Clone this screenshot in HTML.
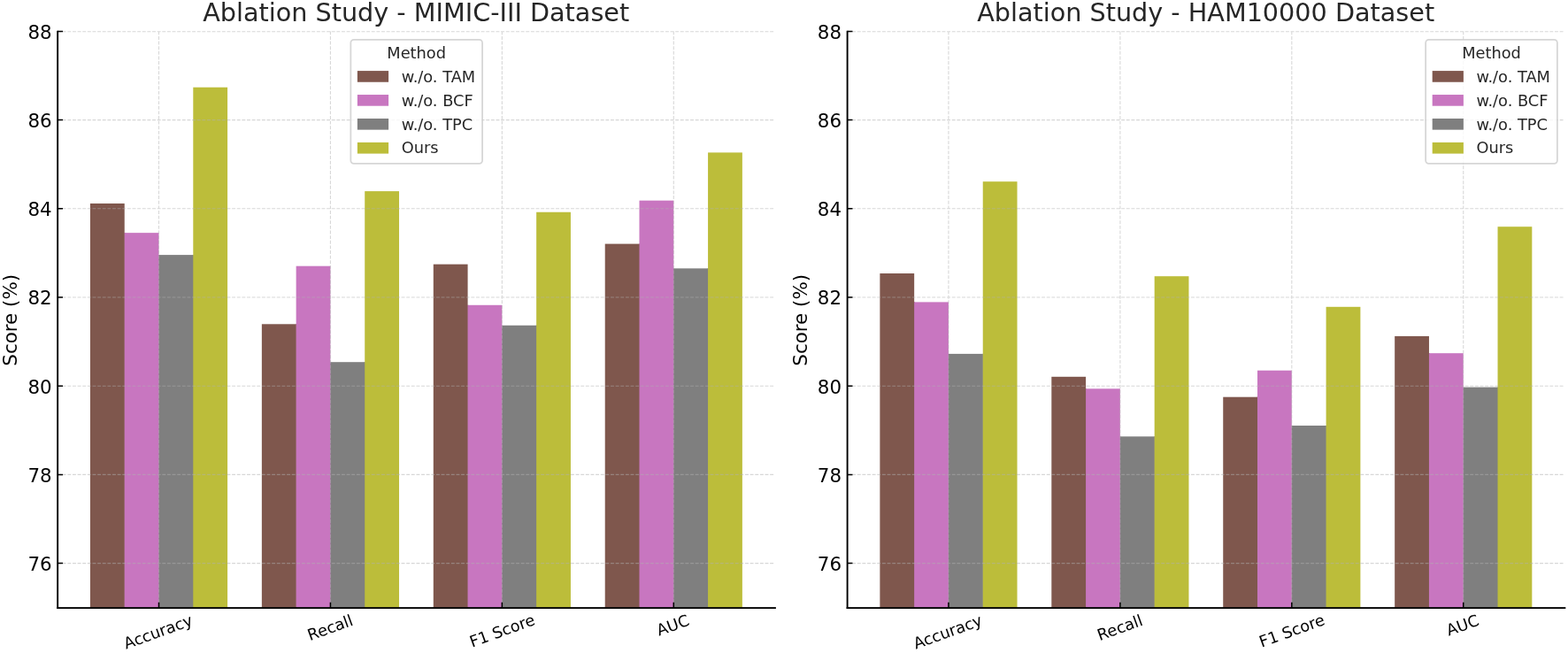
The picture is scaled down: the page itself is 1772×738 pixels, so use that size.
<!DOCTYPE html>
<html><head><meta charset="utf-8"><title>Ablation Study</title>
<style>
html,body{margin:0;padding:0;background:#fff;}
body{width:1772px;height:738px;overflow:hidden;}
svg{display:block;}
text{font-family:"DejaVu Sans","Liberation Sans",sans-serif;}
</style></head><body>
<svg width="1772" height="738" viewBox="0 0 1772 738">
<rect width="1772" height="738" fill="#fff"/>
<rect x="101.93" y="229.97" width="38.79" height="456.73" fill="#7f574d"/>
<rect x="140.21" y="263.15" width="1.3" height="423.55" fill="#7f574d"/>
<rect x="140.71" y="263.15" width="38.79" height="423.55" fill="#c876c0"/>
<rect x="179" y="288.1" width="1.3" height="398.6" fill="#c876c0"/>
<rect x="179.5" y="288.1" width="38.79" height="398.6" fill="#7f7f7f"/>
<rect x="217.79" y="288.1" width="1.3" height="398.6" fill="#7f7f7f"/>
<rect x="218.29" y="98.7" width="38.79" height="588" fill="#bcbd3a"/>
<rect x="295.86" y="366.3" width="38.79" height="320.4" fill="#7f574d"/>
<rect x="334.14" y="366.3" width="1.3" height="320.4" fill="#7f574d"/>
<rect x="334.64" y="300.7" width="38.79" height="386" fill="#c876c0"/>
<rect x="372.93" y="409.2" width="1.3" height="277.5" fill="#c876c0"/>
<rect x="373.43" y="409.2" width="38.79" height="277.5" fill="#7f7f7f"/>
<rect x="411.72" y="409.2" width="1.3" height="277.5" fill="#7f7f7f"/>
<rect x="412.22" y="216.1" width="38.79" height="470.6" fill="#bcbd3a"/>
<rect x="489.79" y="298.67" width="38.79" height="388.03" fill="#7f574d"/>
<rect x="528.07" y="344.8" width="1.3" height="341.9" fill="#7f574d"/>
<rect x="528.57" y="344.8" width="38.79" height="341.9" fill="#c876c0"/>
<rect x="566.86" y="367.75" width="1.3" height="318.95" fill="#c876c0"/>
<rect x="567.36" y="367.75" width="38.79" height="318.95" fill="#7f7f7f"/>
<rect x="605.65" y="367.75" width="1.3" height="318.95" fill="#7f7f7f"/>
<rect x="606.15" y="239.75" width="38.79" height="446.95" fill="#bcbd3a"/>
<rect x="683.72" y="275.6" width="38.79" height="411.1" fill="#7f574d"/>
<rect x="722" y="275.6" width="1.3" height="411.1" fill="#7f574d"/>
<rect x="722.5" y="226.65" width="38.79" height="460.05" fill="#c876c0"/>
<rect x="760.79" y="303.35" width="1.3" height="383.35" fill="#c876c0"/>
<rect x="761.29" y="303.35" width="38.79" height="383.35" fill="#7f7f7f"/>
<rect x="799.58" y="303.35" width="1.3" height="383.35" fill="#7f7f7f"/>
<rect x="800.08" y="172.4" width="38.79" height="514.3" fill="#bcbd3a"/>
<path d="M65.08 636.6H875.71M65.08 536.4H875.71M65.08 436.2H875.71M65.08 336H875.71M65.08 235.8H875.71M65.08 135.6H875.71M65.08 35.8H875.71M179.5 686.7V35.4M373.43 686.7V35.4M567.36 686.7V35.4M761.29 686.7V35.4" stroke="#b0b0b0" stroke-opacity="0.5" stroke-width="1.07" stroke-dasharray="3.92 1.71" fill="none"/>
<path d="M65.08 636.6h5.95M65.08 536.4h5.95M65.08 436.2h5.95M65.08 336h5.95M65.08 235.8h5.95M65.08 135.6h5.95M65.08 35.4h5.95M179.5 686.7v-5.95M373.43 686.7v-5.95M567.36 686.7v-5.95M761.29 686.7v-5.95" stroke="#000" stroke-width="1.5" fill="none"/>
<rect x="64.2" y="34.76" width="1.9" height="653.29" fill="#000"/>
<rect x="64.2" y="686.15" width="812.7" height="1.9" fill="#000"/>
<text x="58.6" y="645" text-anchor="end" font-size="21.36" fill="#000">76</text>
<text x="58.6" y="544.8" text-anchor="end" font-size="21.36" fill="#000">78</text>
<text x="58.6" y="444.6" text-anchor="end" font-size="21.36" fill="#000">80</text>
<text x="58.6" y="344.4" text-anchor="end" font-size="21.36" fill="#000">82</text>
<text x="58.6" y="244.2" text-anchor="end" font-size="21.36" fill="#000">84</text>
<text x="58.6" y="144" text-anchor="end" font-size="21.36" fill="#000">86</text>
<text x="58.6" y="43.8" text-anchor="end" font-size="21.36" fill="#000">88</text>
<text transform="translate(19.2,361.8) rotate(-90)" text-anchor="middle" font-size="21.4" fill="#000">Score (%)</text>
<text x="470.2" y="24.45" text-anchor="middle" font-size="28.66" fill="#262626">Ablation Study - MIMIC-III Dataset</text>
<text transform="translate(180.65,719.9) rotate(-20)" text-anchor="middle" font-size="17.8" fill="#000">Accuracy</text>
<text transform="translate(375.23,715.1) rotate(-20)" text-anchor="middle" font-size="17.8" fill="#000">Recall</text>
<text transform="translate(569.56,718.6) rotate(-20)" text-anchor="middle" font-size="17.8" fill="#000">F1 Score</text>
<text transform="translate(762.49,712.4) rotate(-20)" text-anchor="middle" font-size="17.8" fill="#000">AUC</text>
<rect x="396.35" y="44.95" width="148.75" height="139.9" rx="3.5" fill="#fff" fill-opacity="0.8" stroke="#ccc" stroke-opacity="0.8" stroke-width="1.78"/>
<text x="470.7" y="65.6" text-anchor="middle" font-size="17.8" fill="#262626">Method</text>
<rect x="403.89" y="80.09" width="35.2" height="12.66" fill="#7f574d"/>
<text x="453.75" y="92.6" font-size="17.8" fill="#262626">w./o. TAM</text>
<rect x="403.89" y="107.04" width="35.2" height="12.66" fill="#c876c0"/>
<text x="453.75" y="119.55" font-size="17.8" fill="#262626">w./o. BCF</text>
<rect x="403.89" y="133.99" width="35.2" height="12.66" fill="#7f7f7f"/>
<text x="453.75" y="146.5" font-size="17.8" fill="#262626">w./o. TPC</text>
<rect x="403.89" y="160.94" width="35.2" height="12.66" fill="#bcbd3a"/>
<text x="453.75" y="173.45" font-size="17.8" fill="#262626">Ours</text>
<rect x="994.38" y="309" width="38.79" height="377.7" fill="#7f574d"/>
<rect x="1032.66" y="341.4" width="1.3" height="345.3" fill="#7f574d"/>
<rect x="1033.16" y="341.4" width="38.79" height="345.3" fill="#c876c0"/>
<rect x="1071.45" y="399.9" width="1.3" height="286.8" fill="#c876c0"/>
<rect x="1071.95" y="399.9" width="38.79" height="286.8" fill="#7f7f7f"/>
<rect x="1110.24" y="399.9" width="1.3" height="286.8" fill="#7f7f7f"/>
<rect x="1110.74" y="205.2" width="38.79" height="481.5" fill="#bcbd3a"/>
<rect x="1188.31" y="425.8" width="38.79" height="260.9" fill="#7f574d"/>
<rect x="1226.59" y="439.3" width="1.3" height="247.4" fill="#7f574d"/>
<rect x="1227.09" y="439.3" width="38.79" height="247.4" fill="#c876c0"/>
<rect x="1265.38" y="493.3" width="1.3" height="193.4" fill="#c876c0"/>
<rect x="1265.88" y="493.3" width="38.79" height="193.4" fill="#7f7f7f"/>
<rect x="1304.17" y="493.3" width="1.3" height="193.4" fill="#7f7f7f"/>
<rect x="1304.67" y="312.2" width="38.79" height="374.5" fill="#bcbd3a"/>
<rect x="1382.24" y="448.7" width="38.79" height="238" fill="#7f574d"/>
<rect x="1420.52" y="448.7" width="1.3" height="238" fill="#7f574d"/>
<rect x="1421.02" y="418.7" width="38.79" height="268" fill="#c876c0"/>
<rect x="1459.31" y="481" width="1.3" height="205.7" fill="#c876c0"/>
<rect x="1459.81" y="481" width="38.79" height="205.7" fill="#7f7f7f"/>
<rect x="1498.1" y="481" width="1.3" height="205.7" fill="#7f7f7f"/>
<rect x="1498.6" y="346.8" width="38.79" height="339.9" fill="#bcbd3a"/>
<rect x="1576.17" y="379.9" width="38.79" height="306.8" fill="#7f574d"/>
<rect x="1614.45" y="399.2" width="1.3" height="287.5" fill="#7f574d"/>
<rect x="1614.95" y="399.2" width="38.79" height="287.5" fill="#c876c0"/>
<rect x="1653.24" y="437.6" width="1.3" height="249.1" fill="#c876c0"/>
<rect x="1653.74" y="437.6" width="38.79" height="249.1" fill="#7f7f7f"/>
<rect x="1692.03" y="437.6" width="1.3" height="249.1" fill="#7f7f7f"/>
<rect x="1692.53" y="256.2" width="38.79" height="430.5" fill="#bcbd3a"/>
<path d="M957.53 636.6H1768.16M957.53 536.4H1768.16M957.53 436.2H1768.16M957.53 336H1768.16M957.53 235.8H1768.16M957.53 135.6H1768.16M957.53 35.8H1768.16M1071.95 686.7V35.4M1265.88 686.7V35.4M1459.81 686.7V35.4M1653.74 686.7V35.4" stroke="#b0b0b0" stroke-opacity="0.5" stroke-width="1.07" stroke-dasharray="3.92 1.71" fill="none"/>
<path d="M957.53 636.6h5.95M957.53 536.4h5.95M957.53 436.2h5.95M957.53 336h5.95M957.53 235.8h5.95M957.53 135.6h5.95M957.53 35.4h5.95M1071.95 686.7v-5.95M1265.88 686.7v-5.95M1459.81 686.7v-5.95M1653.74 686.7v-5.95" stroke="#000" stroke-width="1.5" fill="none"/>
<rect x="956.65" y="34.76" width="1.9" height="653.29" fill="#000"/>
<rect x="956.65" y="686.15" width="812.7" height="1.9" fill="#000"/>
<text x="951.05" y="645" text-anchor="end" font-size="21.36" fill="#000">76</text>
<text x="951.05" y="544.8" text-anchor="end" font-size="21.36" fill="#000">78</text>
<text x="951.05" y="444.6" text-anchor="end" font-size="21.36" fill="#000">80</text>
<text x="951.05" y="344.4" text-anchor="end" font-size="21.36" fill="#000">82</text>
<text x="951.05" y="244.2" text-anchor="end" font-size="21.36" fill="#000">84</text>
<text x="951.05" y="144" text-anchor="end" font-size="21.36" fill="#000">86</text>
<text x="951.05" y="43.8" text-anchor="end" font-size="21.36" fill="#000">88</text>
<text transform="translate(911.65,361.8) rotate(-90)" text-anchor="middle" font-size="21.4" fill="#000">Score (%)</text>
<text x="1362.65" y="24.45" text-anchor="middle" font-size="28.66" fill="#262626">Ablation Study - HAM10000 Dataset</text>
<text transform="translate(1073.1,719.9) rotate(-20)" text-anchor="middle" font-size="17.8" fill="#000">Accuracy</text>
<text transform="translate(1267.68,715.1) rotate(-20)" text-anchor="middle" font-size="17.8" fill="#000">Recall</text>
<text transform="translate(1462.01,718.6) rotate(-20)" text-anchor="middle" font-size="17.8" fill="#000">F1 Score</text>
<text transform="translate(1654.94,712.4) rotate(-20)" text-anchor="middle" font-size="17.8" fill="#000">AUC</text>
<rect x="1611.15" y="44.95" width="148.75" height="139.9" rx="3.5" fill="#fff" fill-opacity="0.8" stroke="#ccc" stroke-opacity="0.8" stroke-width="1.78"/>
<text x="1685.5" y="65.6" text-anchor="middle" font-size="17.8" fill="#262626">Method</text>
<rect x="1618.69" y="80.09" width="35.2" height="12.66" fill="#7f574d"/>
<text x="1668.55" y="92.6" font-size="17.8" fill="#262626">w./o. TAM</text>
<rect x="1618.69" y="107.04" width="35.2" height="12.66" fill="#c876c0"/>
<text x="1668.55" y="119.55" font-size="17.8" fill="#262626">w./o. BCF</text>
<rect x="1618.69" y="133.99" width="35.2" height="12.66" fill="#7f7f7f"/>
<text x="1668.55" y="146.5" font-size="17.8" fill="#262626">w./o. TPC</text>
<rect x="1618.69" y="160.94" width="35.2" height="12.66" fill="#bcbd3a"/>
<text x="1668.55" y="173.45" font-size="17.8" fill="#262626">Ours</text>
</svg>
</body></html>
